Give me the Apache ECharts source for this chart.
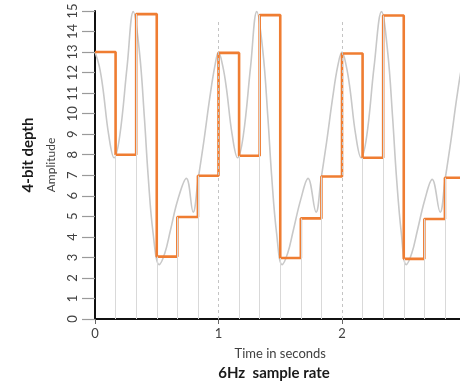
<!DOCTYPE html>
<html>
<head>
<meta charset="utf-8">
<script src="https://cdn.jsdelivr.net/npm/echarts@6/dist/echarts.min.js"></script>
<style>html,body{margin:0;padding:0;background:#fff}#c{width:460px;height:383px}</style>
</head>
<body>
<div id="c"></div>
<script>
// sample times (6 Hz) and quantised sample values (4-bit)
var sampleTimes = [0, 0.1667, 0.3333, 0.5, 0.6667, 0.8333,
                   1, 1.1667, 1.3333, 1.5, 1.6667, 1.8333,
                   2, 2.1667, 2.3333, 2.5, 2.6667, 2.8333, 3];
var sampleValues = [13.0, 8.0, 14.85, 3.04, 4.97, 6.98,
                    12.96, 7.95, 14.8, 2.97, 4.9, 6.94,
                    12.93, 7.85, 14.78, 2.93, 4.87, 6.88, 6.88];

// analog signal
var curveTimes = [0, 0.035, 0.065, 0.11, 0.155, 0.2, 0.26, 0.31, 0.36, 0.40, 0.43, 0.47, 0.52, 0.565, 0.61, 0.67, 0.74, 0.795, 0.835, 0.88, 0.93, 0.97,
                  1.0, 1.035, 1.065, 1.11, 1.155, 1.2, 1.26, 1.31, 1.36, 1.40, 1.43, 1.47, 1.515, 1.56, 1.605, 1.665, 1.725, 1.79, 1.83, 1.875, 1.925, 1.965,
                  2.0, 2.035, 2.065, 2.11, 2.155, 2.2, 2.26, 2.32, 2.37, 2.41, 2.44, 2.48, 2.52, 2.565, 2.61, 2.67, 2.73, 2.795, 2.835, 2.88, 2.93, 2.97, 3.0];
var curveValues = [13.0, 12.3, 11.2, 9.0, 7.85, 8.9, 12.3, 14.97, 13.0, 9.8, 7.0, 4.2, 2.65, 3.2, 4.3, 5.8, 6.85, 5.2, 6.8, 8.6, 10.8, 12.3,
                   13.0, 12.3, 11.2, 9.0, 7.85, 8.9, 12.3, 14.97, 13.0, 9.8, 7.0, 4.2, 2.65, 3.2, 4.3, 5.8, 6.85, 5.2, 6.8, 8.6, 10.8, 12.3,
                   13.0, 12.3, 11.2, 9.0, 7.85, 8.9, 12.3, 14.97, 13.0, 9.8, 7.0, 4.2, 2.65, 3.2, 4.3, 5.8, 6.8, 5.2, 6.8, 8.6, 10.8, 12.3, 13.0];

var secondMarks = [1, 2];
var secondMarkTop = 14.6;

var stemLines = [], steps = [], curve = [];
for (var i = 0; i < sampleTimes.length; i++) {
  steps.push([sampleTimes[i], sampleValues[i]]);
  if (i > 0 && i < sampleTimes.length - 1 && secondMarks.indexOf(sampleTimes[i]) < 0)
    stemLines.push([{coord: [sampleTimes[i], 0]}, {coord: [sampleTimes[i], sampleValues[i]]}]);
}
for (var j = 0; j < curveTimes.length; j++) curve.push([curveTimes[j], curveValues[j]]);
var markData = secondMarks.map(function (s) { return [{coord: [s, 0]}, {coord: [s, secondMarkTop]}]; });

var FONT = 'Lato';
var chart = echarts.init(document.getElementById('c'), null, {renderer: 'canvas'});
chart.setOption({
  animation: false,
  textStyle: {fontFamily: FONT},
  grid: {left: 95, right: -5.5, top: 11, bottom: 64, containLabel: false, outerBoundsMode: 'none'},
  xAxis: {
    type: 'value', min: 0, max: 3, interval: 1,
    name: 'Time in seconds', nameLocation: 'middle', nameGap: 28,
    nameTextStyle: {fontFamily: FONT, fontSize: 13, color: '#404040'},
    axisLine: {show: true, onZero: false, lineStyle: {color: '#111', width: 2}},
    axisTick: {show: true, length: 5, lineStyle: {color: '#666'}},
    axisLabel: {fontFamily: FONT, fontSize: 13, color: '#404040', margin: 8},
    splitLine: {show: false}
  },
  yAxis: {
    type: 'value', min: 0, max: 15, interval: 1,
    name: 'Amplitude', nameLocation: 'middle', nameGap: 38, nameRotate: 90,
    nameTextStyle: {fontFamily: FONT, fontSize: 12, color: '#404040'},
    axisLine: {show: true, lineStyle: {color: '#111', width: 2}},
    axisTick: {show: true, length: 13, lineStyle: {color: '#9a9a9a', width: 1.2}},
    axisLabel: {fontFamily: FONT, fontSize: 13, color: '#404040', rotate: 90, margin: 16},
    splitLine: {show: false}
  },
  graphic: [
    {type: 'text', rotation: Math.PI / 2,
     style: {text: '4-bit depth', font: 'bold 15px ' + FONT, fill: '#1a1a1a', textAlign: 'center', textVerticalAlign: 'middle'},
     x: 28, y: 155},
    {type: 'text', style: {text: '6Hz  sample rate', font: 'bold 15px ' + FONT, fill: '#1a1a1a', textAlign: 'center', textVerticalAlign: 'middle'},
     x: 274, y: 373}
  ],
  series: [
    {type: 'line', data: [], silent: true, z: 1,
     markLine: {silent: true, symbol: 'none', label: {show: false}, animation: false,
                lineStyle: {color: '#d9d9d9', type: 'solid', width: 1}, data: stemLines}},
    {type: 'line', data: [], silent: true, z: 1,
     markLine: {silent: true, symbol: 'none', label: {show: false}, animation: false,
                lineStyle: {color: '#c4c4c4', type: [3, 3], width: 1}, data: markData}},
    {type: 'line', data: curve, smooth: 0.4, showSymbol: false, symbol: 'none', z: 2,
     lineStyle: {color: '#c8c8c8', width: 1.6}},
    {type: 'line', data: steps, step: 'end', showSymbol: false, symbol: 'none', z: 3,
     lineStyle: {color: '#ef7d32', width: 2.6}}
  ]
});
</script>
</body>
</html>
